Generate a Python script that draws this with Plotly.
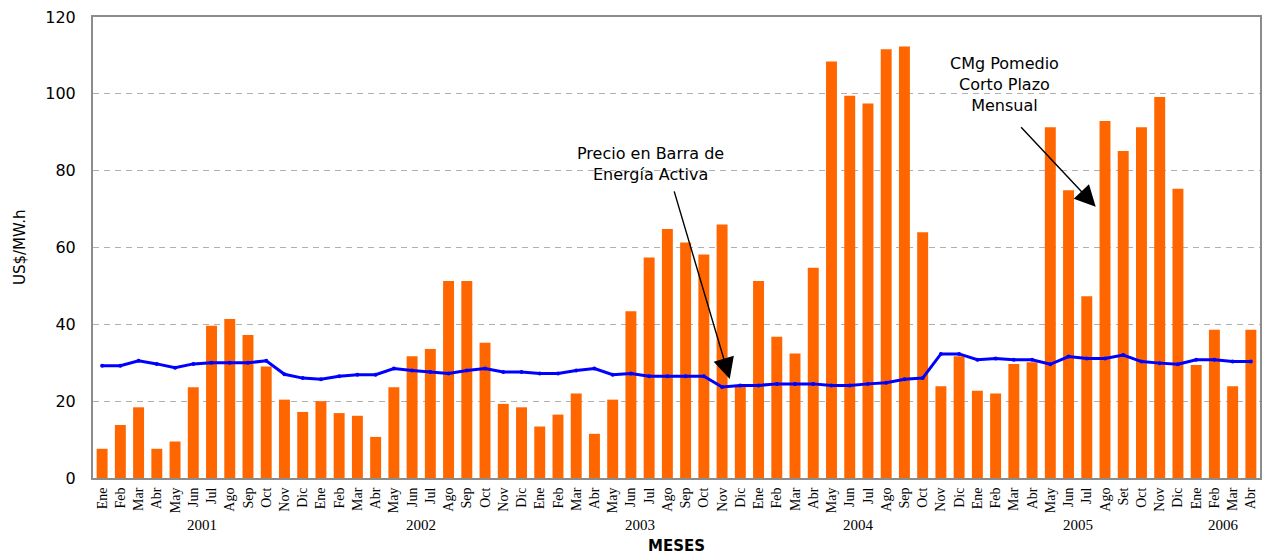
import plotly.graph_objects as go

months = ["Ene","Feb","Mar","Abr","May","Jun","Jul","Ago","Sep","Oct","Nov","Dic",
          "Ene","Feb","Mar","Abr","May","Jun","Jul","Ago","Sep","Oct","Nov","Dic",
          "Ene","Feb","Mar","Abr","May","Jun","Jul","Ago","Sep","Oct","Nov","Dic",
          "Ene","Feb","Mar","Abr","May","Jun","Jul","Ago","Sep","Oct","Nov","Dic",
          "Ene","Feb","Mar","Abr","May","Jun","Jul","Ago","Set","Oct","Nov","Dic",
          "Ene","Feb","Mar","Abr"]
years = ["2001"]*12 + ["2002"]*12 + ["2003"]*12 + ["2004"]*12 + ["2005"]*12 + ["2006"]*4

cmg = [7.6, 13.8, 18.4, 7.6, 9.5, 23.6, 39.6, 41.4, 37.2, 29.0, 20.4, 17.2,
       20.0, 16.9, 16.2, 10.7, 23.6, 31.7, 33.6, 51.3, 51.3, 35.2, 19.3, 18.4,
       13.4, 16.5, 22.0, 11.5, 20.4, 43.4, 57.4, 64.8, 61.3, 58.2, 66.0, 24.1,
       51.3, 36.8, 32.4, 54.7, 108.4, 99.5, 97.5, 111.6, 112.3, 64.0, 23.9, 31.7,
       22.7, 22.0, 29.7, 30.1, 91.3, 74.9, 47.3, 92.9, 85.1, 91.3, 99.2, 75.3,
       29.4, 38.6, 23.9, 38.6]

pbarra = [29.2, 29.2, 30.5, 29.7, 28.7, 29.7, 30.0, 30.0, 30.0, 30.5, 27.0, 26.0,
          25.7, 26.5, 26.9, 26.9, 28.5, 28.0, 27.6, 27.2, 28.0, 28.5, 27.6, 27.6,
          27.2, 27.2, 28.0, 28.5, 26.9, 27.2, 26.5, 26.5, 26.5, 26.5, 23.7, 24.1,
          24.1, 24.5, 24.5, 24.5, 24.1, 24.1, 24.5, 24.8, 25.7, 26.0, 32.3, 32.3,
          30.8, 31.1, 30.8, 30.8, 29.6, 31.6, 31.1, 31.1, 32.0, 30.3, 29.9, 29.6,
          30.8, 30.8, 30.3, 30.3]

y_ticks = [0, 20, 40, 60, 80, 100, 120]

idx = list(range(len(months)))

fig = go.Figure()
fig.add_trace(go.Bar(x=idx, y=cmg, marker=dict(color="#FF6600", line=dict(width=0)),
                     name="CMg", showlegend=False))
fig.add_trace(go.Scatter(x=idx, y=pbarra, mode="lines+markers",
                         line=dict(color="#0000FF", width=3),
                         marker=dict(color="#0000FF", size=4),
                         name="Precio", showlegend=False))

annotations = []
# year labels
for yr in ["2001", "2002", "2003", "2004", "2005", "2006"]:
    ii = [i for i, y in enumerate(years) if y == yr]
    annotations.append(dict(x=sum(ii) / len(ii), y=-0.103, xref="x", yref="paper",
                            text=yr, showarrow=False,
                            font=dict(family="Liberation Serif", size=15, color="black"),
                            xanchor="center", yanchor="middle"))
annotations.append(dict(x=0.5, y=-0.147, xref="paper", yref="paper", text="<b>MESES</b>",
                        showarrow=False, font=dict(family="DejaVu Sans", size=15, color="black"),
                        xanchor="center", yanchor="middle"))
annotations.append(dict(x=-0.063, y=0.5, xref="paper", yref="paper", text="US$/MW.h",
                        showarrow=False, textangle=-90,
                        font=dict(family="DejaVu Sans", size=15, color="black"),
                        xanchor="center", yanchor="middle"))
# text labels
annotations.append(dict(x=30.1, y=81.8, xref="x", yref="y",
                        text="Precio en Barra de<br>Energía Activa", showarrow=False,
                        font=dict(family="DejaVu Sans", size=16, color="black"),
                        xanchor="center", yanchor="middle", align="center"))
annotations.append(dict(x=49.5, y=102.5, xref="x", yref="y",
                        text="CMg Pomedio<br>Corto Plazo<br>Mensual", showarrow=False,
                        font=dict(family="DejaVu Sans", size=16, color="black"),
                        xanchor="center", yanchor="middle", align="center"))
# arrows
annotations.append(dict(x=34.42, y=25.8, xref="x", yref="y", text="", showarrow=True,
                        ax=-56, ay=-189, arrowhead=2, arrowsize=3, arrowwidth=1.4,
                        arrowcolor="black"))
annotations.append(dict(x=54.49, y=70.6, xref="x", yref="y", text="", showarrow=True,
                        ax=-76, ay=-81, arrowhead=2, arrowsize=3, arrowwidth=1.4,
                        arrowcolor="black"))

fig.update_layout(
    width=1264, height=556,
    margin=dict(l=93, r=2, t=17, b=78),
    paper_bgcolor="white", plot_bgcolor="white",
    bargap=0.4,
    annotations=annotations,
    xaxis=dict(tickmode="array", tickvals=idx, ticktext=months, tickangle=-90,
               range=[-0.5, len(months) - 0.5], showgrid=False, zeroline=False,
               showline=True, linecolor="#8c8c8c", linewidth=2, mirror=True,
               ticks="", ticklabelstandoff=2,
               tickfont=dict(family="Liberation Serif", size=14, color="black")),
    yaxis=dict(range=[0, 120], tickvals=y_ticks, showgrid=True, gridcolor="#b0b0b0",
               griddash="6px,5px", gridwidth=1, zeroline=False,
               showline=True, linecolor="#8c8c8c", linewidth=2, mirror=True,
               ticks="", ticklabelstandoff=12,
               tickfont=dict(family="DejaVu Sans", size=16, color="black")),
)

fig.write_html("out.html", config={"displayModeBar": False},
               post_script="document.body.style.margin='0';document.body.style.overflow='hidden';")
